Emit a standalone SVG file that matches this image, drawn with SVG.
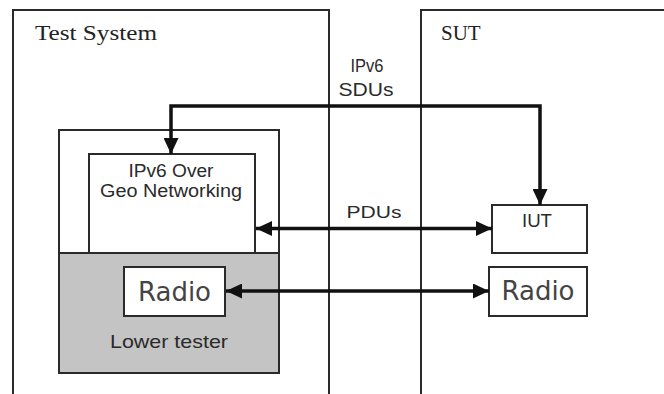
<svg xmlns="http://www.w3.org/2000/svg" width="664" height="394" viewBox="0 0 664 394">
<style>
.box{fill:none;stroke:#2a2a2a;stroke-width:2}
.wbox{fill:#fff;stroke:#2a2a2a;stroke-width:2}
.con{fill:none;stroke:#111;stroke-width:3.5}
.sans{font-family:"Liberation Sans",Arial,sans-serif;fill:#2a2a2a}
.serif{font-family:"Liberation Serif","Times New Roman",serif;fill:#222}
.radio{font-family:"DejaVu Sans","Liberation Sans",sans-serif;fill:#444;font-size:26px}
</style>
<defs>
<marker id="ah" markerUnits="userSpaceOnUse" markerWidth="17" markerHeight="15" refX="16" refY="7.5" orient="auto-start-reverse" viewBox="0 0 17 15">
<path d="M0,0 L16,7.5 L0,15 z" fill="#111"/>
</marker>
</defs>
<rect width="664" height="394" fill="#fff"/>
<g id="test-system">
<path class="box" d="M13,400 V10 H329 V400"/>
<text class="serif" x="35" y="40" font-size="21" textLength="122" lengthAdjust="spacingAndGlyphs">Test System</text>
</g>
<g id="sut">
<path class="box" d="M421,400 V10 H670"/>
<text class="serif" x="441" y="40" font-size="21">SUT</text>
</g>
<g id="tester-container">
<rect class="wbox" x="59" y="130" width="220" height="243"/>
<rect x="60" y="253" width="218" height="119" fill="#c4c4c4"/>
<line x1="59" y1="253" x2="279" y2="253" stroke="#2a2a2a" stroke-width="2"/>
</g>
<g id="ipv6-over-geonetworking">
<rect class="wbox" x="89" y="154" width="166" height="99"/>
<text class="sans" x="171" y="177" font-size="17.5" text-anchor="middle" textLength="85" lengthAdjust="spacingAndGlyphs">IPv6 Over</text>
<text class="sans" x="171" y="197" font-size="17.5" text-anchor="middle" textLength="142" lengthAdjust="spacingAndGlyphs">Geo Networking</text>
</g>
<g id="radio-tester">
<rect class="wbox" x="124" y="267" width="101" height="49"/>
<text class="radio" x="174.5" y="301" text-anchor="middle">Radio</text>
</g>
<g id="lower-tester">
<text class="sans" x="169" y="348" font-size="19" text-anchor="middle" textLength="118" lengthAdjust="spacingAndGlyphs">Lower tester</text>
</g>
<g id="iut">
<rect class="wbox" x="492" y="205" width="95" height="48"/>
<text class="sans" x="537" y="227" font-size="19" text-anchor="middle" textLength="30" lengthAdjust="spacingAndGlyphs">IUT</text>
</g>
<g id="radio-sut">
<rect class="wbox" x="489" y="267" width="98" height="49"/>
<text class="radio" x="538" y="300" text-anchor="middle">Radio</text>
</g>
<g id="connectors">
<path class="con" d="M171,154 V106 H540 V205" marker-start="url(#ah)" marker-end="url(#ah)"/>
<line class="con" x1="256" y1="228.5" x2="492" y2="228.5" marker-start="url(#ah)" marker-end="url(#ah)"/>
<line class="con" x1="226" y1="291" x2="489" y2="291" marker-start="url(#ah)" marker-end="url(#ah)"/>
<text class="sans" x="367" y="72" font-size="18" text-anchor="middle" textLength="33" lengthAdjust="spacingAndGlyphs">IPv6</text>
<text class="sans" x="366" y="96" font-size="18" text-anchor="middle" textLength="55" lengthAdjust="spacingAndGlyphs">SDUs</text>
<text class="sans" x="374" y="218" font-size="16" text-anchor="middle" textLength="55" lengthAdjust="spacingAndGlyphs">PDUs</text>
</g>
</svg>
